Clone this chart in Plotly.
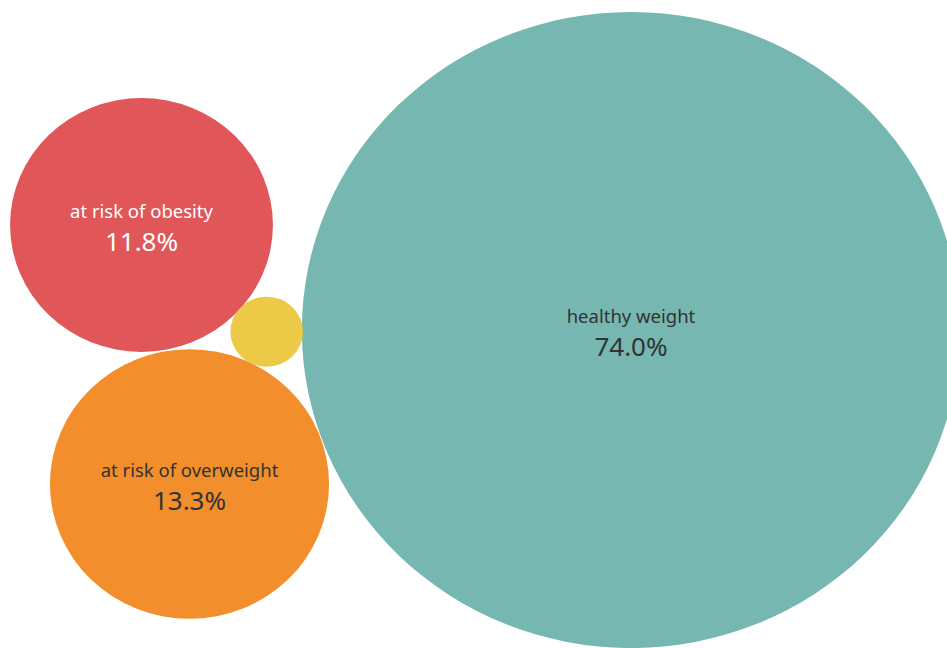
import math
import plotly.graph_objects as go

# ---- data ----
categories = ["healthy weight", "at risk of overweight", "at risk of obesity", "underweight"]
shares = [74.0, 13.3, 11.8, 0.9]          # percent
show_label = [True, True, True, False]

# ---- layout (packed bubble positions, in pixel-like units) ----
centers_x = [631, 189.5, 141.5, 266.7]
centers_y = [330, 484, 225, 331.7]
colors = ["#76B7B2", "#F28E2B", "#E15759", "#EDC948"]
text_colors = ["#333333", "#333333", "#FFFFFF", "#333333"]
scale = 36.97      # radius per sqrt(percent)
x_stretch = 1.035  # horizontal stretch of the source image

W, H = 947, 648
fig = go.Figure()

shapes = []
for cat, v, cx, cy, col in zip(categories, shares, centers_x, centers_y, colors):
    r = math.sqrt(v) * scale
    rx = r * x_stretch
    shapes.append(dict(type="circle", xref="x", yref="y",
                       x0=cx - rx, x1=cx + rx, y0=cy - r, y1=cy + r,
                       fillcolor=col, line=dict(width=0), layer="below"))

lab_x = [cx for cx, s in zip(centers_x, show_label) if s]
lab_y = [cy for cy, s in zip(centers_y, show_label) if s]
lab_t = [c for c, s in zip(categories, show_label) if s]
lab_p = [f"{v:.1f}%" for v, s in zip(shares, show_label) if s]
lab_c = [c for c, s in zip(text_colors, show_label) if s]
fig.add_trace(go.Scatter(x=lab_x, y=[y - 12 for y in lab_y], mode="text", text=lab_t,
                         textfont=dict(family="Noto Sans, sans-serif", size=18.5, color=lab_c),
                         hoverinfo="skip", showlegend=False))
fig.add_trace(go.Scatter(x=lab_x, y=[y + 19.5 for y in lab_y], mode="text", text=lab_p,
                         textfont=dict(family="Noto Sans, sans-serif", size=26, color=lab_c),
                         hoverinfo="skip", showlegend=False))

fig.update_layout(
    width=W, height=H, margin=dict(l=0, r=0, t=0, b=0),
    paper_bgcolor="white", plot_bgcolor="white", shapes=shapes,
    xaxis=dict(range=[0, W], visible=False, fixedrange=True),
    yaxis=dict(range=[H, 0], visible=False, fixedrange=True),
)
fig.write_html("out.html", config={"displayModeBar": False},
               post_script="document.body.style.margin='0';document.body.style.overflow='hidden';")
